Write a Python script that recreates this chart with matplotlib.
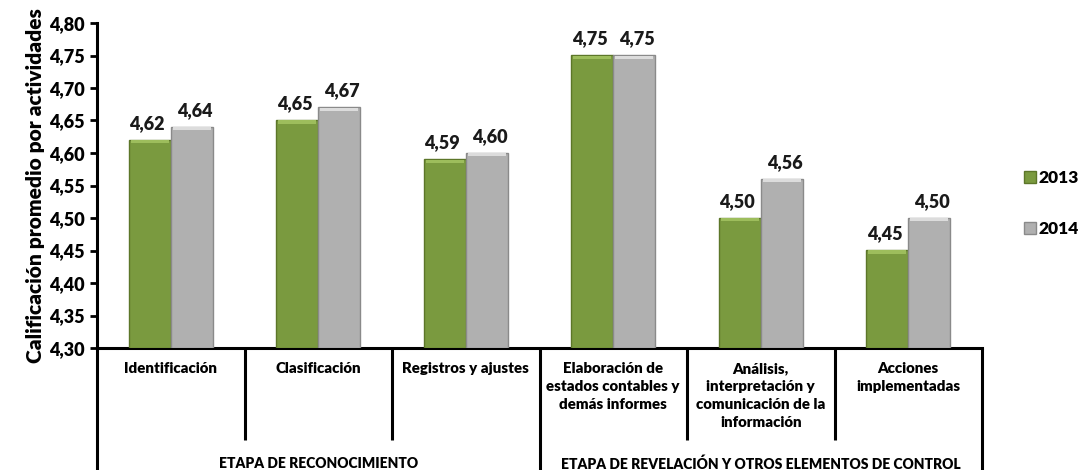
import matplotlib
matplotlib.use("Agg")
import matplotlib.pyplot as plt
import matplotlib.transforms as mtransforms
import numpy as np

categories = ["Identificación", "Clasificación", "Registros y ajustes",
              "Elaboración de\nestados contables y\ndemás informes",
              "Análisis,\ninterpretación y\ncomunicación de la\ninformación",
              "Acciones\nimplementadas"]
groups = ["ETAPA DE RECONOCIMIENTO", "ETAPA DE REVELACIÓN Y OTROS ELEMENTOS DE CONTROL"]
group_sizes = [3, 3]
series_names = ["2013", "2014"]
values_2013 = [4.62, 4.65, 4.59, 4.75, 4.50, 4.45]
values_2014 = [4.64, 4.67, 4.60, 4.75, 4.56, 4.50]
yticks = [4.30, 4.35, 4.40, 4.45, 4.50, 4.55, 4.60, 4.65, 4.70, 4.75, 4.80]

plt.rcParams['font.family'] = ['Lato', 'DejaVu Sans']
plt.rcParams['font.weight'] = 'heavy'
WT = 'heavy'

fig = plt.figure(figsize=(10.85, 4.70), dpi=100)
W, H = 1085, 470
ax = fig.add_axes([97 / W, 1 - 348 / H, (982 - 97) / W, (348 - 23) / H])

x = np.arange(len(categories))
bw = 0.285
colors = ["#7a9a3f", "#b0b0b0"]
edges = ["#5c7629", "#8a8a8a"]
caps = ["#9dbd5c", "#dcdcdc"]
cap_h = 0.005
for i, (vals, c, e, cp, name) in enumerate(zip([values_2013, values_2014], colors, edges, caps, series_names)):
    pos = x + (i - 0.5) * bw
    vals = np.array(vals)
    ax.bar(pos, vals - 4.30, bottom=4.30, width=bw, color=c,
           edgecolor=e, linewidth=1.0, label=name, zorder=3)
    ax.bar(pos, cap_h, bottom=vals - cap_h, width=bw * 0.9, color=cp,
           linewidth=0, zorder=4)
    for p, v in zip(pos, vals):
        ax.annotate(f"{v:.2f}".replace(".", ","), (p, v), xytext=(-2 if i == 0 else 2, 6),
                    textcoords="offset points", ha="center", va="bottom",
                    fontsize=13, fontweight=WT, color="#1a1a1a")

ax.set_xlim(-0.5, len(categories) - 0.5)
ax.set_ylim(4.30, 4.80)
ax.set_yticks(yticks)
ax.set_yticklabels([f"{t:.2f}".replace(".", ",") for t in yticks], fontsize=13, fontweight=WT)
ax.tick_params(axis='y', direction='out', length=5, width=2, pad=4)
ax.set_xticks([])
for s in ["top", "right"]:
    ax.spines[s].set_visible(False)
ax.spines["left"].set_linewidth(2.2)
ax.spines["bottom"].set_linewidth(2.2)

ax.set_ylabel("Calificación promedio por actividades", fontsize=15, fontweight=WT, labelpad=3)

# multi-level category axis
tr = mtransforms.blended_transform_factory(ax.transData, ax.transAxes)
h_px = 348 - 23
y_inner = -(440 - 348) / h_px
y_outer = -(470 - 348) / h_px
bounds = np.arange(len(categories) + 1) - 0.5
group_bounds = [-0.5]
for gs in group_sizes:
    group_bounds.append(group_bounds[-1] + gs)
for b in bounds:
    ybot = y_outer if b in group_bounds else y_inner
    ax.plot([b, b], [0, ybot], transform=tr, color="black", lw=2.2, clip_on=False, solid_capstyle="butt")
for xi, lab in zip(x, categories):
    ax.text(xi, -(362 - 348) / h_px, lab, transform=tr, ha="center", va="top",
            fontsize=10.8, fontweight=WT, linespacing=1.45)
for gi, g in enumerate(groups):
    c = (group_bounds[gi] + group_bounds[gi + 1]) / 2
    ax.text(c, -(464 - 348) / h_px, g, transform=tr, ha="center", va="center",
            fontsize=10, fontweight=WT)

leg = fig.legend(loc="upper left", bbox_to_anchor=(1024 / W, 1 - 170 / H), frameon=False,
                 handlelength=0.7, handleheight=0.7, handletextpad=0.15,
                 borderaxespad=0, borderpad=0,
                 labelspacing=2.0, prop={'weight': WT, 'size': 12.5})

fig.savefig("out.png", dpi=100)
